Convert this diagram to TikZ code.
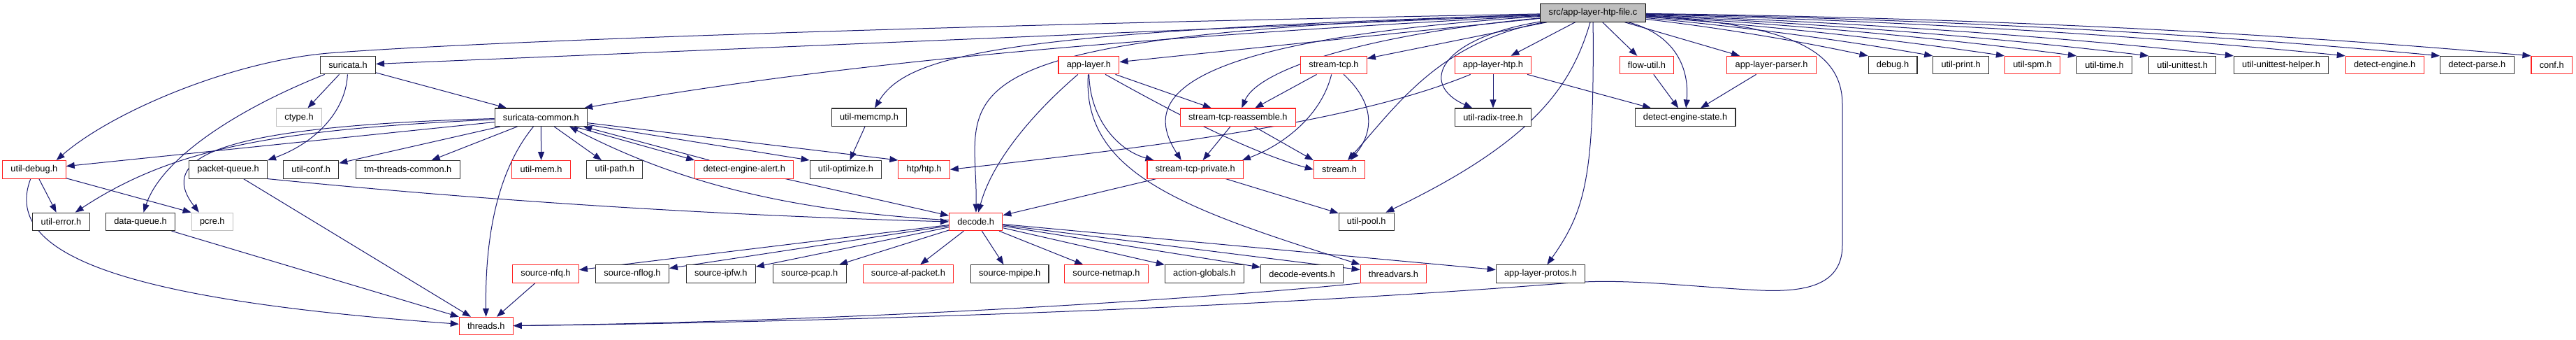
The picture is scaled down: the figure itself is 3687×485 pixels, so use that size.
\documentclass[tikz,border=0pt]{standalone}
\usepackage{fontspec}
\setmainfont{Liberation Sans}
\usetikzlibrary{arrows.meta, backgrounds}
\definecolor{edgeblue}{RGB}{25,25,112}
\definecolor{boxred}{RGB}{255,32,32}
\definecolor{boxgray}{RGB}{191,191,191}
\definecolor{boxblack}{RGB}{48,48,48}

\begin{document}
\begin{tikzpicture}[x=1pt, y=-1pt, >={Triangle[length=12pt, width=9pt]},
  hdr/.style={draw=boxblack, line width=1.1pt, fill=white, minimum height=25.5pt,
    inner xsep=11.8pt, inner ysep=0pt, font=\fontsize{12.8}{14}\selectfont},
  hred/.style={hdr, draw=boxred},
  hgray/.style={hdr, draw=boxgray},
  dep/.style={->, draw=edgeblue, line width=1pt}]
  \useasboundingbox (0,0) rectangle (3687,485);

  % the file itself
  \node[hdr, fill=boxgray, draw=black] (root) at (2280,18.5) {src/app-layer-htp-file.c};

  % row 1
  \node[hdr]  (sur)   at (498,93.1)    {suricata.h};
  \node[hred] (al)    at (1558.4,93.1) {app-layer.h};
  \node[hred] (stcp)  at (1909,93.1)   {stream-tcp.h};
  \node[hred] (alhtp) at (2137,93.1)   {app-layer-htp.h};
  \node[hred] (fu)    at (2357,93.1)   {flow-util.h};
  \node[hred] (alp)   at (2535.6,93.1) {app-layer-parser.h};
  \node[hdr]  (dbg)   at (2709,93.1)   {debug.h};
  \node[hdr]  (upr)   at (2806.6,93.1) {util-print.h};
  \node[hred] (uspm)  at (2909,93.1)   {util-spm.h};
  \node[hdr]  (utime) at (3012,93.1)   {util-time.h};
  \node[hdr]  (uut)   at (3123.7,93.1) {util-unittest.h};
  \node[hdr]  (uuth)  at (3265,93.1)   {util-unittest-helper.h};
  \node[hred] (de)    at (3413.2,93.1) {detect-engine.h};
  \node[hdr]  (dp)    at (3545.3,93.1) {detect-parse.h};
  \node[hred] (conf)  at (3652.2,93.1) {conf.h};

  % row 2
  \node[hgray] (ctype) at (428,167.7)    {ctype.h};
  \node[hdr]   (scom)  at (774.4,167.7)  {suricata-common.h};
  \node[hdr]   (umc)   at (1244,167.7)   {util-memcmp.h};
  \node[hred]  (stra)  at (1771.8,167.7) {stream-tcp-reassemble.h};
  \node[hdr]   (urt)   at (2137,167.7)   {util-radix-tree.h};
  \node[hdr]   (des)   at (2412,167.7)   {detect-engine-state.h};

  % row 3
  \node[hred] (udbg)  at (48.9,242.3)   {util-debug.h};
  \node[hdr]  (pq)    at (326.6,242.3)  {packet-queue.h};
  \node[hdr]  (uconf) at (445.2,242.3)  {util-conf.h};
  \node[hdr]  (tmc)   at (583.7,242.3)  {tm-threads-common.h};
  \node[hred] (umem)  at (774.6,242.3)  {util-mem.h};
  \node[hdr]  (upath) at (879.8,242.3)  {util-path.h};
  \node[hred] (dea)   at (1065.2,242.3) {detect-engine-alert.h};
  \node[hdr]  (uopt)  at (1210.4,242.3) {util-optimize.h};
  \node[hred] (htp)   at (1322.6,242.3) {htp/htp.h};
  \node[hred] (stpv)  at (1710.7,242.3) {stream-tcp-private.h};
  \node[hred] (strm)  at (1917,242.3)   {stream.h};

  % row 4
  \node[hdr]   (uerr)  at (87.5,316.9)   {util-error.h};
  \node[hdr]   (dq)    at (201,316.9)    {data-queue.h};
  \node[hgray] (pcre)  at (303.8,316.9)  {pcre.h};
  \node[hred]  (dec)   at (1396.7,316.9) {decode.h};
  \node[hdr]   (upool) at (1955.7,316.9) {util-pool.h};

  % row 5
  \node[hred] (snfq)   at (781,391.5)    {source-nfq.h};
  \node[hdr]  (snflog) at (905,391.5)    {source-nflog.h};
  \node[hdr]  (sipfw)  at (1031.8,391.5) {source-ipfw.h};
  \node[hdr]  (spcap)  at (1158.7,391.5) {source-pcap.h};
  \node[hred] (safp)   at (1299.9,391.5) {source-af-packet.h};
  \node[hdr]  (smp)    at (1445.1,391.5) {source-mpipe.h};
  \node[hred] (snm)    at (1583.5,391.5) {source-netmap.h};
  \node[hdr]  (ag)     at (1724,391.5)   {action-globals.h};
  \node[hdr]  (dev)    at (1863.7,391.5) {decode-events.h};
  \node[hred] (tv)     at (1994.5,391.5) {threadvars.h};
  \node[hdr]  (alpr)   at (2205,391.5)   {app-layer-protos.h};

  % row 6
  \node[hred] (thr) at (695.8,466.1) {threads.h};

  \begin{scope}[on background layer]
    % includes of the file itself
    \draw[dep] (root) -- (sur);
    \draw[dep] (root) .. controls (1400,35) and (700,58) .. (470,76)
      .. controls (330,88) and (160,160) .. ([xshift=-14pt]udbg.north east);
    \draw[dep] (root) .. controls (1600,55) and (1200,90) .. ([xshift=-5pt]scom.north east);
    \draw[dep] (root) .. controls (1450,45) and (1300,75) .. (umc);
    \draw[dep] (root) .. controls (1300,50) and (1400,130) .. (dec);
    \draw[dep] (root) -- (al);
    \draw[dep] (root) .. controls (1950,50) and (1800,100) .. (stra);
    \draw[dep] (root) .. controls (1650,60) and (1640,150) .. ([xshift=-20pt]stpv.north);
    \draw[dep] (root) -- (stcp);
    \draw[dep] (root) .. controls (2060,60) and (2000,150) .. (strm);
    \draw[dep] (root) .. controls (2060,55) and (2030,120) .. (urt);
    \draw[dep] (root) -- (alhtp);
    \draw[dep] (root) .. controls (2250,120) and (2200,200) .. (upool);
    \draw[dep] (root) .. controls (2282,250) and (2270,300) .. (alpr);
    \draw[dep] (root) -- (fu);
    \draw[dep] (root) .. controls (2400,50) and (2418,100) .. (des);
    \draw[dep] (root) -- (alp);
    \draw[dep] (root) .. controls (2560,35) and (2637,70) .. (2637,150) -- (2637,350)
      .. controls (2637,405) and (2590,418) .. (2520,415)
      .. controls (2420,410) and (2330,398) .. (2250,404)
      .. controls (1800,440) and (1200,460) .. (thr);
    \foreach \t/\ax/\ay/\bx/\by in {dbg/2462/39.8/2569/57.6, upr/2493/38.3/2630/56.1,
        uspm/2527/36.8/2698/54.6, utime/2562/35.1/2767/52.9, uut/2596/33.4/2835/51.2,
        uuth/2636/31.5/2917/49.3, de/2690/29/3024/46.8, dp/2735/26.8/3113/44.6,
        conf/2778/24.8/3200/42.6}
      \draw[dep] (root) .. controls (\ax,\ay) and (\bx,\by) .. (\t.north west);

    % suricata.h
    \draw[dep] (sur) -- (scom);
    \draw[dep] (sur) -- (ctype);
    \draw[dep] (sur) .. controls (495,160) and (450,205) .. (pq.north east);
    \draw[dep] (sur) .. controls (330,160) and (230,230) .. (dq);

    % suricata-common.h
    \draw[dep] (scom) -- (udbg);
    \draw[dep] (scom) .. controls (400,185) and (250,210) .. (uerr);
    \draw[dep] (scom) .. controls (330,180) and (220,220) .. ([xshift=-19pt]pcre.north);
    \draw[dep] (scom) -- (uconf);
    \draw[dep] (scom) -- (tmc);
    \draw[dep] (scom) -- (umem);
    \draw[dep] (scom) -- (upath);
    \draw[dep] (scom) -- (dea.north west);
    \draw[dep] (scom) -- (uopt.north west);
    \draw[dep] (scom) -- (htp.north west);
    \draw[dep] (scom) .. controls (715,240) and (694,330) .. (thr);
    \draw[dep] (dea) -- ([xshift=-6pt]scom.south east);
    \draw[dep] (dec) .. controls (1100,300) and (950,250) .. ([xshift=-26pt]scom.south east);

    % util-debug.h and friends
    \draw[dep] (udbg) -- (uerr);
    \draw[dep] (udbg) -- (pcre.north west);
    \draw[dep] (udbg) .. controls (0,370) and (200,430) .. (thr);
    \draw[dep] (pq) -- (thr);
    \draw[dep] (pq.south east) .. controls (708,288) and (1034,308) .. (dec.west);
    \draw[dep] (dq) -- (thr.north west);
    \draw[dep] (snfq) -- (thr);
    \draw[dep] (tv.south west) .. controls (1800,420) and (1300,458) .. (thr);
    \draw[dep] (umc) -- (uopt);
    \draw[dep] (dea) -- (dec);

    % decode.h
    \foreach \t in {snfq, snflog, sipfw, spcap, safp, smp, snm, ag, dev, tv, alpr}
      \draw[dep] (dec) -- (\t);

    % app-layer.h
    \draw[dep] (al) .. controls (1480,160) and (1420,230) .. (dec);
    \draw[dep] (al) -- (stra);
    \draw[dep] (al) .. controls (1560,170) and (1600,215) .. ([xshift=10pt]stpv.north west);
    \draw[dep] (al) .. controls (1660,150) and (1780,215) .. (strm.west);
    \draw[dep] (al) .. controls (1548,250) and (1700,300) .. (tv.north west);

    % stream-tcp.h
    \draw[dep] (stcp) -- (stra);
    \draw[dep] (stcp) .. controls (1890,170) and (1830,210) .. ([xshift=-2pt]stpv.north east);
    \draw[dep] (stcp) .. controls (1970,150) and (1965,190) .. ([xshift=16pt]strm.north);
    \draw[dep] (stra) -- (stpv);
    \draw[dep] (stra) -- (strm.north west);
    \draw[dep] (stpv) -- (dec);
    \draw[dep] (stpv) -- (upool);

    % app-layer-htp.h
    \draw[dep] (alhtp) .. controls (1950,170) and (1700,205) .. (htp.east);
    \draw[dep] (alhtp) -- (urt);
    \draw[dep] (alhtp) -- (des);
    \draw[dep] (fu) -- (des);
    \draw[dep] (alp) -- (des);
  \end{scope}
\end{tikzpicture}
\end{document}
